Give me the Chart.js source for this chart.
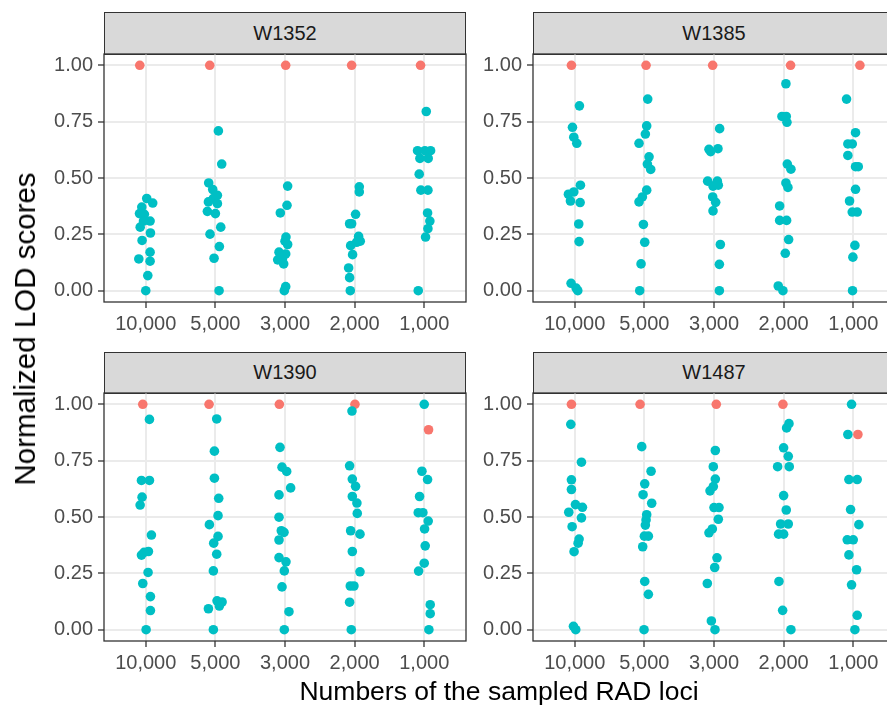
<!DOCTYPE html>
<html>
<head>
<meta charset="utf-8">
<script src="https://cdn.jsdelivr.net/npm/chart.js@4/dist/chart.umd.min.js"></script>
<style>
  body { margin: 0; width: 887px; height: 705px; overflow: hidden; background: #fff; position: relative; font-family: "Liberation Sans", Arial, sans-serif; }
  canvas { position: absolute; }
  .strip { position: absolute; box-sizing: border-box; background: #D9D9D9; border: 1.3px solid #333; color: #1A1A1A; font-size: 20px; text-align: center; }
  .title { position: absolute; color: #000; white-space: nowrap; }
</style>
</head>
<body>
<script>
// Sampled loci categories and panels
const categories = ['10,000', '5,000', '3,000', '2,000', '1,000'];
const panelNames = ['W1352', 'W1385', 'W1390', 'W1487'];
const yTicks = [0, 0.25, 0.5, 0.75, 1];

// points as [category index, jitter, normalized LOD score]
const w1352 = [
    [0,0.014,0.409],[0,0.10,0.389],[0,-0.057,0.371],[0,-0.09,0.342],[0,-0.02,0.339],[0,0.062,0.309],[0,-0.033,0.309],[0,-0.08,0.282],[0,0.067,0.256],[0,-0.053,0.223],[0,0.062,0.171],[0,-0.1,0.141],[0,0.062,0.131],[0,0.029,0.067],[0,0,0],
    [1,0.043,0.709],[1,0.091,0.562],[1,-0.096,0.478],[1,-0.038,0.449],[1,-0.029,0.409],[1,0.029,0.423],[1,-0.1,0.394],[1,0.029,0.386],[1,-0.115,0.352],[1,0,0.342],[1,0.077,0.282],[1,-0.077,0.251],[1,0.057,0.196],[1,-0.019,0.144],[1,0.053,0],
    [2,0.038,0.464],[2,0.029,0.379],[2,-0.067,0.345],[2,0.014,0.238],[2,0,0.22],[2,0.038,0.205],[2,-0.086,0.171],[2,0.01,0.163],[2,-0.105,0.137],[2,-0.033,0.146],[2,-0.019,0.119],[2,0.01,0.018],[2,-0.01,0],
    [3,0.067,0.461],[3,0.067,0.438],[3,0.014,0.339],[3,-0.072,0.297],[3,-0.043,0.297],[3,0.057,0.241],[3,0.029,0.215],[3,0.081,0.22],[3,-0.057,0.2],[3,-0.029,0.16],[3,-0.086,0.101],[3,-0.072,0.058],[3,-0.062,0],
    [4,0.029,0.795],[4,-0.096,0.621],[4,0.01,0.621],[4,0.091,0.621],[4,-0.062,0.587],[4,0.057,0.587],[4,-0.072,0.517],[4,-0.048,0.446],[4,0.053,0.446],[4,0.048,0.345],[4,0.081,0.309],[4,0.053,0.275],[4,0.019,0.238],[4,-0.086,0]
];
const w1352Top = [[0,-0.086,1],[1,-0.081,1],[2,0.01,1],[3,-0.043,1],[4,-0.053,1]];

const w1385 = [
    [0,0.067,0.82],[0,-0.033,0.725],[0,-0.014,0.681],[0,0.029,0.654],[0,0.081,0.468],[0,-0.091,0.428],[0,-0.014,0.438],[0,-0.062,0.398],[0,0.077,0.391],[0,0.057,0.296],[0,0.062,0.218],[0,-0.053,0.033],[0,0.043,0],[0,0.019,0.012],
    [1,0.048,0.85],[1,0.033,0.731],[1,0.014,0.695],[1,-0.077,0.654],[1,0.067,0.594],[1,0.043,0.562],[1,0.091,0.538],[1,0.033,0.446],[1,-0.029,0.416],[1,-0.077,0.394],[1,-0.014,0.294],[1,0.005,0.215],[1,-0.048,0.119],[1,-0.067,0],
    [2,0.081,0.719],[2,-0.072,0.627],[2,0.057,0.63],[2,-0.048,0.617],[2,-0.091,0.486],[2,0.048,0.486],[2,-0.014,0.464],[2,0.062,0.468],[2,-0.019,0.416],[2,0.024,0.392],[2,-0.014,0.354],[2,0.091,0.205],[2,0.077,0.117],[2,0.077,0],
    [3,0.033,0.918],[3,-0.024,0.773],[3,0.038,0.773],[3,0.048,0.747],[3,0.053,0.562],[3,0.105,0.539],[3,0.033,0.478],[3,0.062,0.458],[3,-0.057,0.376],[3,-0.057,0.312],[3,0.043,0.312],[3,0.072,0.227],[3,0.024,0.166],[3,-0.077,0.021],[3,-0.01,0],
    [4,-0.096,0.85],[4,0.033,0.701],[4,-0.077,0.651],[4,-0.014,0.651],[4,-0.077,0.6],[4,0.033,0.55],[4,0.072,0.55],[4,0.033,0.45],[4,-0.053,0.398],[4,-0.014,0.349],[4,0.057,0.349],[4,0.024,0.201],[4,-0.005,0.149],[4,-0.01,0]
];
const w1385Top = [[0,-0.048,1],[1,0.024,1],[2,-0.019,1],[3,0.1,1],[4,0.096,1]];

const w1390 = [
    [0,0.053,0.933],[0,-0.062,0.662],[0,0.053,0.662],[0,-0.053,0.588],[0,-0.081,0.553],[0,0.081,0.42],[0,0.038,0.347],[0,-0.024,0.343],[0,-0.062,0.331],[0,0.033,0.254],[0,-0.043,0.205],[0,0.067,0.147],[0,0.067,0.085],[0,0.005,0],
    [1,0.019,0.935],[1,-0.014,0.792],[1,-0.014,0.672],[1,0.048,0.583],[1,0.038,0.506],[1,-0.086,0.466],[1,0.038,0.414],[1,-0.024,0.384],[1,0.019,0.335],[1,-0.029,0.261],[1,0.024,0.128],[1,0.096,0.123],[1,0.057,0.105],[1,-0.1,0.093],[1,-0.029,0],
    [2,-0.072,0.809],[2,-0.043,0.721],[2,0.024,0.702],[2,0.081,0.629],[2,-0.086,0.598],[2,-0.086,0.499],[2,-0.053,0.439],[2,-0.014,0.432],[2,-0.086,0.398],[2,-0.086,0.32],[2,0.014,0.301],[2,-0.01,0.261],[2,-0.043,0.19],[2,0.057,0.08],[2,-0.01,0],
    [3,-0.038,0.97],[3,-0.072,0.727],[3,-0.033,0.668],[3,0.014,0.636],[3,-0.033,0.591],[3,0.033,0.562],[3,0.038,0.516],[3,-0.057,0.439],[3,0.077,0.424],[3,-0.033,0.347],[3,0.077,0.257],[3,-0.062,0.194],[3,-0.01,0.194],[3,-0.072,0.122],[3,-0.048,0],
    [4,0,1],[4,-0.033,0.703],[4,0.048,0.666],[4,-0.067,0.591],[4,-0.086,0.519],[4,-0.019,0.519],[4,0.057,0.482],[4,0.005,0.447],[4,0.014,0.372],[4,0,0.295],[4,-0.081,0.26],[4,0.086,0.111],[4,0.086,0.071],[4,0.067,0]
];
const w1390Top = [[0,-0.043,1],[1,-0.091,1],[2,-0.081,1],[3,0.005,1],[4,0.062,0.887]];

const w1487 = [
    [0,-0.057,0.911],[0,0.096,0.743],[0,-0.048,0.665],[0,-0.048,0.622],[0,0.01,0.555],[0,0.11,0.543],[0,-0.086,0.521],[0,0.096,0.496],[0,-0.038,0.457],[0,0.062,0.402],[0,0.048,0.384],[0,-0.01,0.346],[0,-0.019,0.015],[0,0.014,0],
    [1,-0.038,0.812],[1,0.096,0.703],[1,0.005,0.647],[1,-0.019,0.599],[1,0.105,0.561],[1,0.033,0.51],[1,0.024,0.487],[1,0.014,0.464],[1,0,0.415],[1,0.057,0.415],[1,-0.024,0.368],[1,0.005,0.214],[1,0.057,0.157],[1,-0.005,0],
    [2,0.019,0.795],[2,-0.01,0.723],[2,0.019,0.668],[2,-0.01,0.635],[2,-0.057,0.616],[2,0,0.542],[2,0.072,0.542],[2,0.062,0.49],[2,-0.024,0.447],[2,-0.072,0.43],[2,0.043,0.319],[2,0.01,0.276],[2,-0.096,0.205],[2,-0.038,0.039],[2,0.014,0],
    [3,0.077,0.914],[3,0.043,0.895],[3,0,0.807],[3,0.067,0.769],[3,-0.086,0.723],[3,0.081,0.723],[3,0,0.595],[3,0.038,0.531],[3,-0.043,0.469],[3,0.067,0.469],[3,-0.072,0.424],[3,0,0.424],[3,-0.067,0.214],[3,-0.014,0.086],[3,0.105,0],
    [4,-0.024,1],[4,-0.077,0.866],[4,-0.062,0.666],[4,0.057,0.666],[4,-0.038,0.533],[4,0.081,0.466],[4,-0.086,0.399],[4,0,0.399],[4,-0.062,0.332],[4,0.048,0.266],[4,-0.024,0.199],[4,0.057,0.064],[4,0.024,0]
];
const w1487Top = [[0,-0.048,1],[1,-0.062,1],[2,0.033,1],[3,-0.01,1],[4,0.067,0.866]];

const panelPoints = [w1352, w1385, w1390, w1487];
const panelTops = [w1352Top, w1385Top, w1390Top, w1487Top];

Chart.defaults.font.family = '"Liberation Sans", Arial, sans-serif';
Chart.defaults.animation = false;

const teal = '#00BFC4';
const salmon = '#F8766D';
const areaW = 362, areaH = 248, padTop = 20, axisH = 48;

// chart area origin for each facet, and width of its y axis block
const layoutSpec = [
    { left: 104, top: 54, yW: 104 },
    { left: 533, top: 54, yW: 66 },
    { left: 104, top: 393, yW: 104 },
    { left: 533, top: 393, yW: 66 }
];
const stripTops = [12, 12, 351.5, 351.5];

const panelBorder = {
    id: 'panelBorder',
    afterDraw(chart) {
        const a = chart.chartArea;
        const ctx = chart.ctx;
        ctx.save();
        ctx.strokeStyle = '#333';
        ctx.lineWidth = 1.3;
        ctx.strokeRect(a.left, a.top, a.right - a.left, a.bottom - a.top);
        ctx.restore();
    }
};

const toXY = p => ({ x: p[0] + 1 + p[1], y: p[2] });

panelNames.forEach((name, i) => {
    const spec = layoutSpec[i];

    const strip = document.createElement('div');
    strip.className = 'strip';
    strip.textContent = name;
    strip.style.left = spec.left + 'px';
    strip.style.top = stripTops[i] + 'px';
    strip.style.width = areaW + 'px';
    strip.style.height = (spec.top - stripTops[i] + 0.7) + 'px';
    strip.style.lineHeight = (spec.top - stripTops[i] - 2) + 'px';
    document.body.appendChild(strip);

    const canvas = document.createElement('canvas');
    const cw = spec.yW + areaW + 30;
    const ch = padTop + areaH + axisH;
    canvas.width = cw;
    canvas.height = ch;
    canvas.style.left = (spec.left - spec.yW) + 'px';
    canvas.style.top = (spec.top - padTop) + 'px';
    canvas.style.width = cw + 'px';
    canvas.style.height = ch + 'px';
    document.body.appendChild(canvas);

    new Chart(canvas.getContext('2d'), {
        type: 'scatter',
        data: {
            datasets: [{
                data: panelPoints[i].map(toXY),
                backgroundColor: teal,
                borderWidth: 0,
                pointRadius: 4.8,
                pointHoverRadius: 4.8
            }, {
                data: panelTops[i].map(toXY),
                backgroundColor: salmon,
                borderWidth: 0,
                pointRadius: 4.8,
                pointHoverRadius: 4.8
            }]
        },
        options: {
            responsive: false,
            devicePixelRatio: 1,
            layout: { padding: { top: padTop, left: 0, right: 30, bottom: 0 } },
            plugins: { legend: { display: false }, tooltip: { enabled: false } },
            scales: {
                x: {
                    type: 'linear',
                    min: 0.4,
                    max: 5.6,
                    afterBuildTicks: s => { s.ticks = categories.map((c, k) => ({ value: k + 1 })); },
                    afterFit: s => { s.height = axisH; },
                    ticks: {
                        callback: v => categories[v - 1],
                        color: '#4D4D4D',
                        font: { size: 20 },
                        padding: 4,
                        maxRotation: 0,
                        autoSkip: false
                    },
                    grid: { color: '#EBEBEB', lineWidth: 2, tickLength: 6, tickColor: '#333', tickWidth: 1.3 },
                    border: { display: false }
                },
                y: {
                    min: -0.05,
                    max: 1.05,
                    afterBuildTicks: s => { s.ticks = yTicks.map(v => ({ value: v })); },
                    afterFit: s => { s.width = spec.yW; },
                    ticks: {
                        callback: v => v.toFixed(2),
                        color: '#4D4D4D',
                        font: { size: 20 },
                        padding: 5
                    },
                    grid: { color: '#EBEBEB', lineWidth: 2, tickLength: 6, tickColor: '#333', tickWidth: 1.3 },
                    border: { display: false }
                }
            }
        },
        plugins: [panelBorder]
    });
});

const xTitle = document.createElement('div');
xTitle.className = 'title';
xTitle.textContent = 'Numbers of the sampled RAD loci';
xTitle.style.fontSize = '26.5px';
xTitle.style.left = '499px';
xTitle.style.top = '691px';
xTitle.style.transform = 'translate(-50%, -50%)';
document.body.appendChild(xTitle);

const yTitle = document.createElement('div');
yTitle.className = 'title';
yTitle.textContent = 'Normalized LOD scores';
yTitle.style.fontSize = '29.5px';
yTitle.style.left = '25px';
yTitle.style.top = '329px';
yTitle.style.transform = 'translate(-50%, -50%) rotate(-90deg)';
document.body.appendChild(yTitle);
</script>
</body>
</html>
